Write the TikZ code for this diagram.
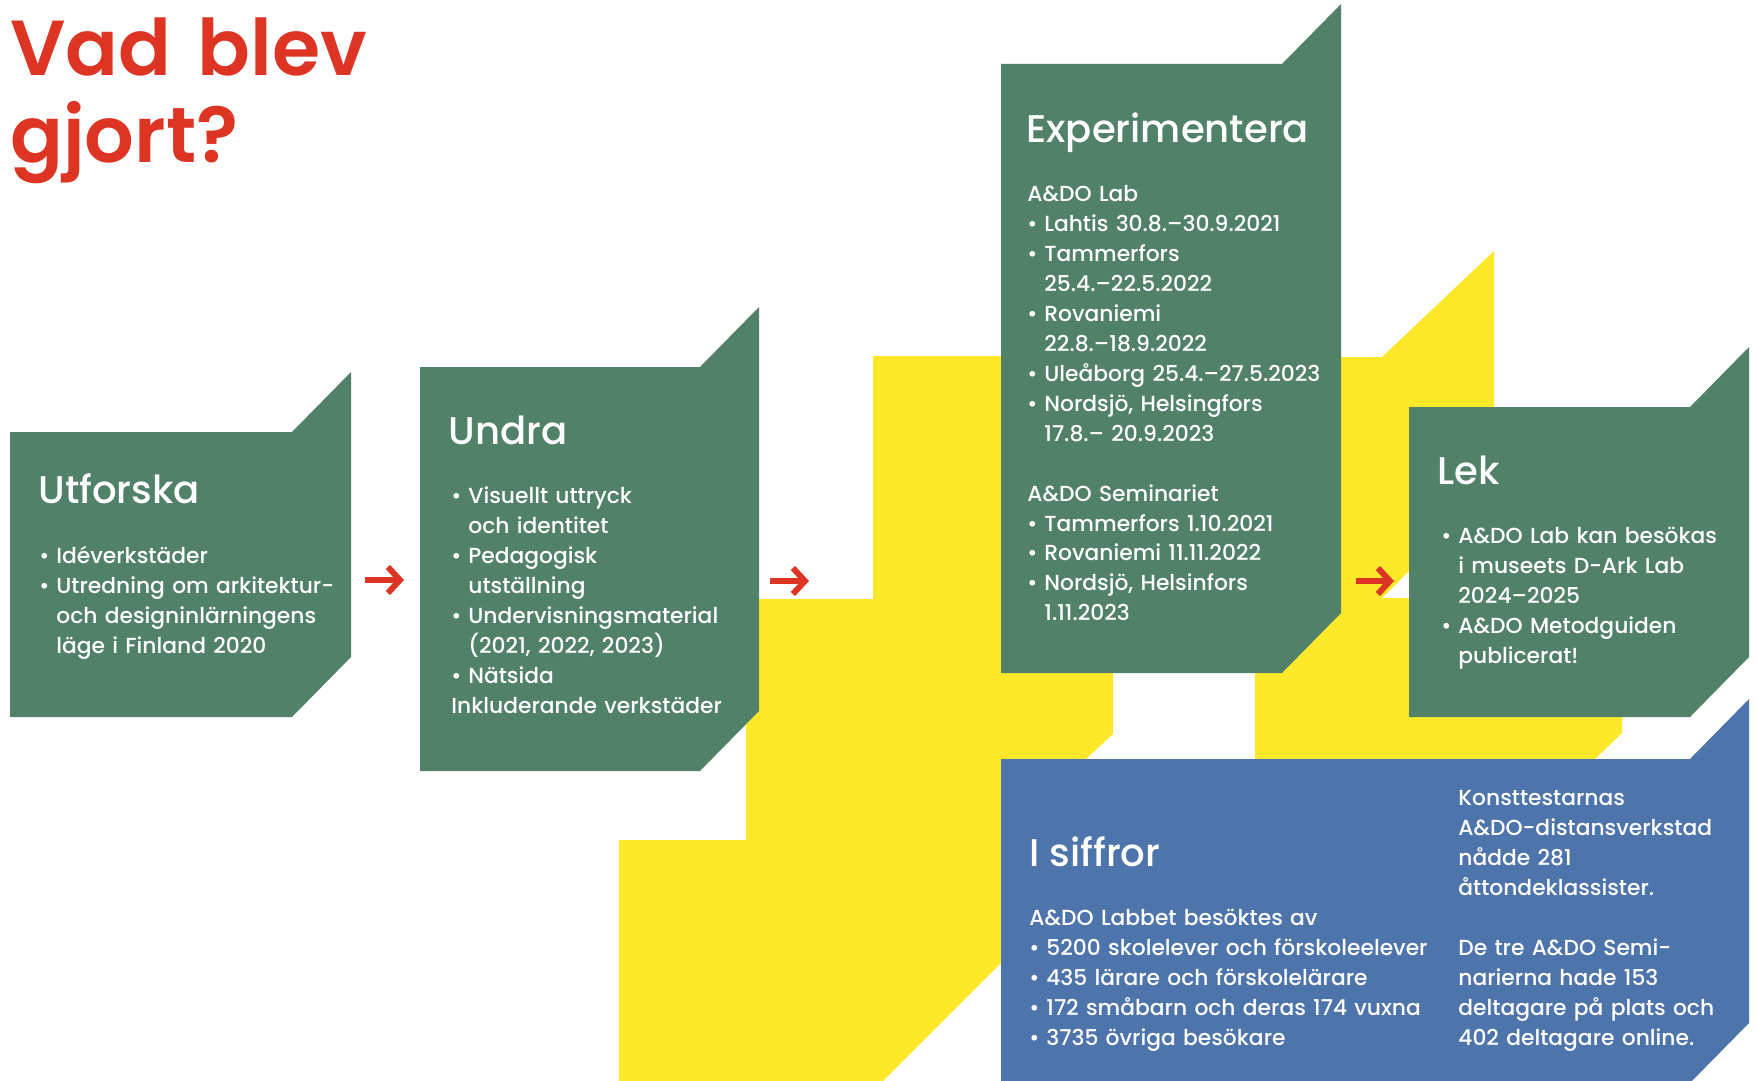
\documentclass[tikz,border=0pt]{standalone}
\usepackage{fontspec}
\setmainfont{Poppins}[UprightFont=* Medium,BoldFont=* SemiBold]
\usetikzlibrary{arrows.meta}
\definecolor{sage}{RGB}{81,130,105}
\definecolor{lemon}{RGB}{253,233,42}
\definecolor{denim}{RGB}{78,116,172}
\definecolor{tomato}{RGB}{221,52,36}
\tikzset{
 head/.style={anchor=base west,text=white,inner sep=0pt,font=\fontsize{19.3}{23}\selectfont},
 body/.style={anchor=base west,text=white,inner sep=0pt,align=left,text width=250pt,
  font=\fontsize{10.9}{15}\selectfont},
 flow/.style={draw=tomato,line width=3pt,-{Straight Barb[length=6pt,width=13pt]}}}
\newcommand{\itm}{\makebox[8.5pt][l]{\textbullet}}
\newcommand{\ind}{\hspace*{8.5pt}}
% flag shaped panel: colour, left, top, right, bottom
\newcommand{\flag}[5]{\fill[#1] (#2,#3) -- ({#4-59},#3) -- (#4,{#3-60}) -- (#4,{#5-60}) -- ({#4-59},#5) -- (#2,#5) -- cycle;}

\begin{document}
\begin{tikzpicture}[x=0.5pt,y=-0.5pt]
 \useasboundingbox (0,0) rectangle (1757,1081);
 % yellow steps behind
 \fill[lemon] (619,1081) -- (619,840) -- (746,840) -- (746,599) -- (873,599) -- (873,356)
  -- (1113,356) -- (1113,734) -- (1086,759) -- (1020,759) -- (1020,944) -- (883,1081) -- cycle;
 \fill[lemon] (1255,759) -- (1255,357) -- (1382,357) -- (1494,251) -- (1494,487) -- (1382,598)
  -- (1622,598) -- (1622,733) -- (1595,759) -- cycle;
 % panels
 \flag{sage}{10}{432}{351}{717}
 \flag{sage}{420}{367}{759}{771}
 \flag{sage}{1001}{64}{1341}{673}
 \flag{sage}{1409}{407}{1749}{717}
 \flag{denim}{1001}{759}{1749}{1083}

 \node[anchor=base west,inner sep=0pt,align=left,text width=300pt,text=tomato,
  font=\fontsize{39}{43.5}\selectfont\bfseries] (title) at (10,76) {Vad blev\\gjort?};

 \node[head] (utforska) at (38,503) {Utforska};
 \node[body] (utforska-txt) at (39,563) {\itm Idéverkstäder\\
  \itm Utredning om arkitektur-\\ \ind och designinlärningens\\ \ind läge i Finland 2020};

 \node[head] (undra) at (448,444) {Undra};
 \node[body] (undra-txt) at (451,503) {\itm Visuellt uttryck\\ \ind och identitet\\
  \itm Pedagogisk\\ \ind utställning\\ \itm Undervisningsmaterial\\
  \ind (2021, 2022, 2023)\\ \itm Nätsida\\ Inkluderande verkstäder};

 \node[head] (exp) at (1026,142) {Experimentera};
 \node[body] (exp-txt) at (1027,201) {A\&DO Lab\\ \itm Lahtis 30.8.–30.9.2021\\
  \itm Tammerfors\\ \ind 25.4.–22.5.2022\\ \itm Rovaniemi\\ \ind 22.8.–18.9.2022\\
  \itm Uleåborg 25.4.–27.5.2023\\ \itm Nordsjö, Helsingfors\\ \ind 17.8.– 20.9.2023\\[15pt]
  A\&DO Seminariet\\ \itm Tammerfors 1.10.2021\\ \itm Rovaniemi 11.11.2022\\
  \itm Nordsjö, Helsinfors\\ \ind 1.11.2023};

 \node[head] (lek) at (1437,484) {Lek};
 \node[body] (lek-txt) at (1441,543) {\itm A\&DO Lab kan besökas\\ \ind i museets D-Ark Lab\\
  \ind 2024–2025\\ \itm A\&DO Metodguiden\\ \ind publicerat!};

 \node[head] (siffror) at (1029,866) {I siffror};
 \node[body] (siffror-txt) at (1029,925) {A\&DO Labbet besöktes av\\
  \itm 5200 skolelever och förskoleelever\\ \itm 435 lärare och förskolelärare\\
  \itm 172 småbarn och deras 174 vuxna\\ \itm 3735 övriga besökare};
 \node[body] (siffror-txt2) at (1458,805) {Konsttestarnas\\ A\&DO-distansverkstad\\
  nådde 281\\ åttondeklassister.\\[15pt] De tre A\&DO Semi-\\ narierna hade 153\\
  deltagare på plats och\\ 402 deltagare online.};

 % arrows between the steps
 \coordinate (a1s) at (365,580); \coordinate (a1e) at (404,580);
 \coordinate (a2s) at (770,581); \coordinate (a2e) at (809,581);
 \coordinate (a3s) at (1356,581); \coordinate (a3e) at (1394,581);
 \draw[flow] (a1s) -- (a1e);
 \draw[flow] (a2s) -- (a2e);
 \draw[flow] (a3s) -- (a3e);
\end{tikzpicture}
\end{document}
